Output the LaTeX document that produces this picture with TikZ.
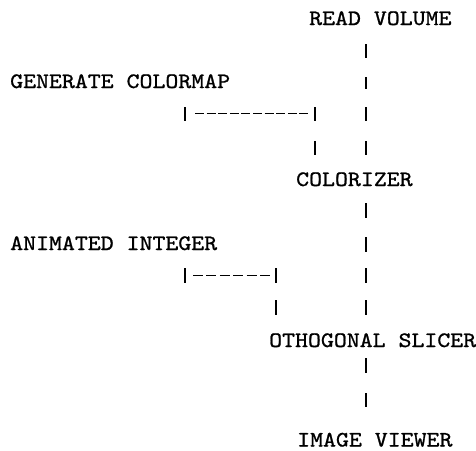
\documentclass[tikz,border=0pt]{standalone}
\usepackage{fontspec}
\newfontfamily\courfont{lmmono10-regular.otf}[FakeStretch=1.12,FakeBold=1.0]
\begin{document}
\begin{tikzpicture}[x=1pt,y=-1pt,
  lbl/.style={anchor=base west, inner sep=0pt, font=\courfont\fontsize{22}{22}\selectfont},
  bar/.style={line width=2pt},
  dashline/.style={line width=1.8pt}]
\useasboundingbox[fill=white] (0,0) rectangle (476,450);
% labels
\node[lbl] (rv) at (309,25) {READ VOLUME};
\node[lbl] (gc) at (10,88) {GENERATE COLORMAP};
\node[lbl] (cz) at (296,186) {COLORIZER};
\node[lbl] (ai) at (10,250) {ANIMATED INTEGER};
\node[lbl] (os) at (269,347) {OTHOGONAL SLICER};
\node[lbl] (iv) at (297,446.5) {IMAGE VIEWER};
% main column of bars
\foreach \a/\b in {44/58, 77/89, 107/121, 141/155, 203/218, 237/252, 268/283, 300/315, 358/373, 393/407}
  \draw[bar] (366,\a) -- (366,\b);
% GENERATE COLORMAP branch
\coordinate (g1) at (185,107);
\coordinate (g2) at (315,107);
\draw[bar] (g1) -- ++(0,14);
\draw[dashline, dash pattern=on 9pt off 2.6pt] (195,113.5) -- (308,113.5);
\draw[bar] (g2) -- ++(0,14);
\draw[bar] (315,141) -- (315,155);
% ANIMATED INTEGER branch
\coordinate (a1) at (185,268);
\coordinate (a2) at (276,268);
\draw[bar] (a1) -- ++(0,15);
\draw[dashline, dash pattern=on 10pt off 3.4pt] (193,275.5) -- (270,275.5);
\draw[bar] (a2) -- ++(0,15);
\draw[bar] (276,300) -- (276,315);
\end{tikzpicture}
\end{document}
